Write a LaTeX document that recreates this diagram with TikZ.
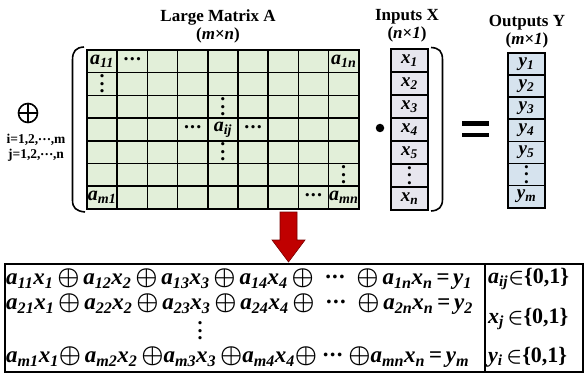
\documentclass[tikz,border=0pt]{standalone}
\usepackage{fontspec}
\setmainfont{Liberation Serif}
\usepackage{amsmath,amssymb}
\usepackage{xcolor}
\usepackage{tikz}
\usetikzlibrary{positioning,calc}
\definecolor{matgreen}{RGB}{226,239,217}
\definecolor{inlilac}{RGB}{231,230,238}
\definecolor{outblue}{RGB}{214,227,238}
\definecolor{arrowred}{RGB}{192,0,0}
\definecolor{arrowdark}{RGB}{120,0,0}
\newcommand{\sz}[1]{\fontsize{#1}{#1}\selectfont}
\newcommand{\ax}[2]{a\textsubscript{#1}x\textsubscript{#2}}
\newcommand{\xo}{$\boldsymbol{\oplus}$}
\newcommand{\xr}{\,\xo\,}
\newcommand{\xt}{\,\xo}
\newcommand{\hd}{\raisebox{0.25em}{{\upshape.}\kern1.2pt{\upshape.}\kern1.2pt{\upshape.}}}
\newcommand{\vdd}{\vbox{\baselineskip7.5pt\lineskiplimit0pt\lineskip0pt\hbox{\upshape.}\hbox{\upshape.}\hbox{\upshape.}}}

\begin{document}
\begin{tikzpicture}[x=1pt, y=-1pt, every node/.style={inner sep=0pt},
    title/.style={font=\sz{17}\bfseries, align=center},
    cellbox/.style={draw, line width=1.6pt, fill=matgreen, minimum width=30.2pt, minimum height=22.7pt},
    xbox/.style={draw, line width=1.6pt, fill=inlilac, minimum width=37pt, minimum height=23pt},
    ybox/.style={draw, line width=1.6pt, fill=outblue, minimum width=37pt, minimum height=22.1pt},
    entry/.style={font=\sz{20}\bfseries\itshape},
    vecentry/.style={font=\sz{19}\bfseries\itshape},
    eqn/.style={font=\sz{23}\bfseries\itshape, anchor=west},
    cond/.style={font=\sz{22}\bfseries\itshape, anchor=west},
    bracket/.style={line width=1.6pt}]
    \useasboundingbox (0,0) rectangle (585,374);

    % Titles
    \node[title] (titleA) at (218,26) {Large Matrix A\\[1pt](\textit{m}×\textit{n})};
    \node[title] (titleX) at (407,26) {Inputs X\\[1pt](\textit{n}×\textit{1})};
    \node[title] (titleY) at (527,32) {Outputs Y\\[1pt](\textit{m}×\textit{1})};

    % Matrix A grid
    \foreach \r in {1,...,7}
        \foreach \c in {1,...,9}
            \node[cellbox] (a-\r-\c) at ({87+30.2*(\c-0.5)},{50+22.7*(\r-0.5)}) {};

    % Matrix entries
    \node[entry] (e11) at (a-1-1) {a\textsubscript{11}};
    \node[entry] (e12) at (a-1-2) {\hd};
    \node[entry] (e1n) at (a-1-9) {a\textsubscript{1n}};
    \node[entry] (e21) at (a-2-1) {\vdd};
    \node[entry] (e35) at (a-3-5) {\vdd};
    \node[entry] (e44) at (a-4-4) {\hd};
    \node[entry] (eij) at (a-4-5) {a\textsubscript{ij}};
    \node[entry] (e46) at (a-4-6) {\hd};
    \node[entry] (e55) at (a-5-5) {\vdd};
    \node[entry] (e69) at (a-6-9) {\vdd};
    \node[entry] (em1) at (a-7-1) {a\textsubscript{m1}};
    \node[entry] (e78) at (a-7-8) {\hd};
    \node[entry] (emn) at (a-7-9) {a\textsubscript{mn}};

    % Input and output vectors
    \foreach \r/\t in {1/x\textsubscript{1}, 2/x\textsubscript{2}, 3/x\textsubscript{3}, 4/x\textsubscript{4}, 5/x\textsubscript{5}, 6/\vdd, 7/x\textsubscript{n}}
        \node[xbox, vecentry] (x-\r) at (409.5,{49+23*(\r-0.5)}) {\t};
    \foreach \r/\t in {1/y\textsubscript{1}, 2/y\textsubscript{2}, 3/y\textsubscript{3}, 4/y\textsubscript{4}, 5/y\textsubscript{5}, 6/\vdd, 7/y\textsubscript{m}}
        \node[ybox, vecentry] (y-\r) at (526.5,{53+22.1*(\r-0.5)}) {\t};

    % Brackets
    \draw[bracket] (84,47) .. controls (76,47.5) and (72.5,51) .. (72.5,60) -- (72.5,200) .. controls (72.5,208) and (76,211) .. (85,212);
    \draw[bracket] (431,47.5) .. controls (439,48) and (442.5,51) .. (442.5,60) -- (442.5,199) .. controls (442.5,207) and (439,210.5) .. (431,211);

    % Big XOR with index ranges
    \node[draw, circle, line width=1.6pt, minimum size=19pt] (bigxor) at (28,113) {};
    \draw[line width=1.6pt] (bigxor.north) -- (bigxor.south);
    \draw[line width=1.6pt] (bigxor.west) -- (bigxor.east);
    \node[font=\sz{13.5}\bfseries, align=center] (range) at (36,148) {i=1,2,\hd,m\\[2pt]j=1,2,\hd,n};

    % Product dot and equals sign
    \node[circle, fill, minimum size=8.5pt] (dotop) at (380,128) {};
    \fill (462,121.5) rectangle (489,126);
    \fill (462,133) rectangle (489,137.5);

    % Red arrow
    \draw[fill=arrowred, draw=arrowdark, line width=0.6pt] (280,212) -- (297,212) -- (297,240) -- (305,240) -- (288.5,262) -- (272,240) -- (280,240) -- cycle;

    % Equation box
    \draw[line width=1.8pt] (5,264) rectangle (583,372);
    \draw[line width=1.2pt] (485,264) -- (485,372);
    \node[eqn] (row1) at (6,279) {\ax{11}{1}\xr\ax{12}{2}\xr\ax{13}{3}\xr\ax{14}{4}\xt\ \ \hd\ \ \xo\,\ax{1n}{n}\,=\,y\textsubscript{1}};
    \node[eqn] (row2) at (6,304) {\ax{21}{1}\xr\ax{22}{2}\xr\ax{23}{3}\xr\ax{24}{4}\xt\ \ \hd\ \ \xo\,\ax{2n}{n}\,=\,y\textsubscript{2}};
    \node[entry] (rowdots) at (200,331) {\vdd};
    \node[eqn] (rowm) at (6,357) {\ax{m1}{1}\xo\,\ax{m2}{2}\xt\ax{m3}{3}\xt\ax{m4}{4}\xo\ \hd\ \xo\ax{mn}{n}\,=\,y\textsubscript{m}};
    \node[cond] (cond1) at (488,279) {a\textsubscript{ij}$\boldsymbol{\in}${\upshape\{0,1\}}};
    \node[cond] (cond2) at (488,319) {x\textsubscript{j}\,$\boldsymbol{\in}${\upshape\{0,1\}}};
    \node[cond] (cond3) at (488,357) {y\textsubscript{i}\,$\boldsymbol{\in}${\upshape\{0,1\}}};
\end{tikzpicture}
\end{document}
